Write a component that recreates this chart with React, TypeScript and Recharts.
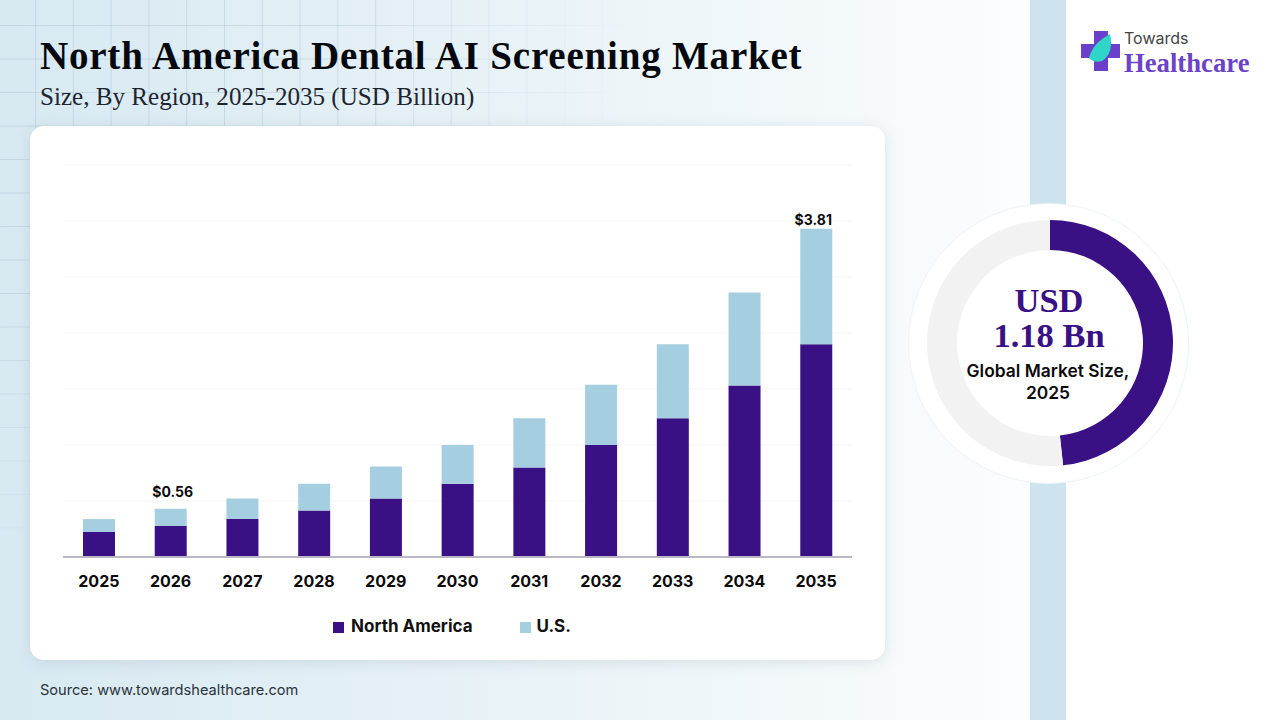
import { Bar, BarChart, CartesianGrid, Cell, Legend, LabelList, Pie, PieChart, XAxis, YAxis } from "recharts";

const years = ["2025", "2026", "2027", "2028", "2029", "2030", "2031", "2032", "2033", "2034", "2035"];
const northAmerica = [0.29, 0.36, 0.44, 0.54, 0.68, 0.85, 1.04, 1.3, 1.61, 1.99, 2.47];
const us = [0.15, 0.2, 0.24, 0.31, 0.37, 0.45, 0.57, 0.7, 0.86, 1.08, 1.34];
const totalLabels = ["", "$0.56", "", "", "", "", "", "", "", "", "$3.81"];
const yTicks = [0, 0.65, 1.3, 1.95, 2.6, 3.25, 3.9, 4.55];

const donutNames = ["North America", "Rest of World"];
const donutValues = [0.57, 0.61];

const PURPLE = "#3a1185";
const LIGHT_BLUE = "#a5cfe0";
const SANS = "Inter, 'Liberation Sans', sans-serif";
const SERIF = "'Liberation Serif', serif";

const barData = years.map((year, i) => ({
  year,
  northAmerica: northAmerica[i],
  us: us[i],
  label: totalLabels[i],
}));
const donutData = donutNames.map((name, i) => ({ name, value: donutValues[i] }));

// the two total labels don't sit at the same distance from their bars in the original
function TotalLabel({ x, y, width, value }: any) {
  if (!value) return null;
  const first = value === totalLabels[1];
  return (
    <text
      x={x + width / 2 + (first ? 2 : -3)}
      y={y - (first ? 12 : 4)}
      textAnchor="middle"
      fill="#0b0b0b"
      fontSize={14}
      fontWeight={700}
      fontFamily={SANS}
    >
      {value}
    </text>
  );
}

function Logo() {
  return (
    <div style={{ position: "absolute", left: 1080, top: 28, width: 180, height: 50 }}>
      <svg width="42" height="44" style={{ position: "absolute", left: 0, top: 0 }}>
        <path d="M14 3h14v13h12v14H28v13H14V30H1V16h13z" fill="#6a3fc9" />
        <path d="M9 30C14 14 24 10 30 6c3 12 0 22-8 27-6 2-10 0-13-3z" fill="#2fd6c8" />
      </svg>
      <div style={{ position: "absolute", left: 44, top: 1, fontFamily: SANS, fontSize: 16, lineHeight: "18px", color: "#444" }}>Towards</div>
      <div style={{ position: "absolute", left: 44, top: 21, fontFamily: SERIF, fontWeight: 700, fontSize: 26.7, lineHeight: "28px", color: "#6a43c8", whiteSpace: "nowrap" }}>Healthcare</div>
    </div>
  );
}

export default function App() {
  const gridMask = "radial-gradient(ellipse 640px 560px at 0 0, #000 55%, transparent 100%)";
  return (
    <div
      style={{
        position: "absolute",
        left: 0,
        top: 0,
        width: 1280,
        height: 720,
        overflow: "hidden",
        background: "linear-gradient(90deg, #d8e9f2 0%, #e6f1f6 35%, #f6fafc 70%, #ffffff 88%)",
      }}
    >
      {/* faint background grid */}
      <div
        style={{
          position: "absolute",
          inset: 0,
          backgroundImage:
            "linear-gradient(90deg, rgba(150,175,190,0.3) 1px, transparent 1px), linear-gradient(rgba(150,175,190,0.3) 1px, transparent 1px)",
          backgroundSize: "37.8px 33.5px",
          backgroundPosition: "35px 25px",
          WebkitMaskImage: gridMask,
          maskImage: gridMask,
        }}
      />
      <div style={{ position: "absolute", left: 1030, top: 0, width: 36, height: 720, background: "#cde3ed" }} />
      <div style={{ position: "absolute", left: 1066, top: 0, width: 214, height: 720, background: "#ffffff" }} />

      <div style={{ position: "absolute", left: 40, top: 33, fontFamily: SERIF, fontWeight: 700, fontSize: 39, letterSpacing: 0.8, color: "#05090f", whiteSpace: "nowrap" }}>
        North America Dental AI Screening Market
      </div>
      <div style={{ position: "absolute", left: 40, top: 83, fontFamily: SERIF, fontSize: 25.1, color: "#1c2530", whiteSpace: "nowrap" }}>
        Size, By Region, 2025-2035 (USD Billion)
      </div>

      <div
        style={{
          position: "absolute",
          left: 30,
          top: 126,
          width: 855,
          height: 534,
          background: "#fff",
          borderRadius: 14,
          boxShadow: "0 2px 14px rgba(120,140,155,0.22)",
        }}
      >
        <BarChart
          width={855}
          height={534}
          data={barData}
          margin={{ top: 39, right: 33, bottom: 43, left: 33 }}
          barSize={32}
        >
          <CartesianGrid vertical={false} stroke="#f4f4f4" strokeWidth={1} />
          <XAxis
            dataKey="year"
            height={40}
            interval={0}
            tickLine={false}
            axisLine={{ stroke: "#bcb7c4", strokeWidth: 2 }}
            tick={{ fill: "#0b0b0b", fontSize: 16, fontWeight: 700, fontFamily: SANS }}
            tickMargin={13}
          />
          <YAxis hide width={0} domain={[0, 4.55]} ticks={yTicks} />
          <Legend
            layout="horizontal"
            align="left"
            verticalAlign="bottom"
            iconType="square"
            iconSize={11}
            wrapperStyle={{ left: 303, bottom: 24, width: 300, fontFamily: SANS, fontWeight: 700, fontSize: 17 }}
            formatter={(value: string) => (
              <span style={{ color: "#111", marginLeft: value === "U.S." ? 2 : 3, marginRight: value === "U.S." ? 0 : 37 }}>{value}</span>
            )}
          />
          <Bar dataKey="northAmerica" name="North America" stackId="a" fill={PURPLE} isAnimationActive={false} />
          <Bar dataKey="us" name="U.S." stackId="a" fill={LIGHT_BLUE} isAnimationActive={false}>
            <LabelList dataKey="label" content={TotalLabel} />
          </Bar>
        </BarChart>
      </div>

      <div style={{ position: "absolute", left: 40, top: 681, fontFamily: SANS, fontSize: 14.6, color: "#2a333b", whiteSpace: "nowrap" }}>
        Source: www.towardshealthcare.com
      </div>

      {/* donut */}
      <div
        style={{
          position: "absolute",
          left: 908,
          top: 203,
          width: 281,
          height: 281,
          borderRadius: "50%",
          background: "#fff",
          border: "1px solid #eef3f6",
          boxSizing: "border-box",
        }}
      />
      <div style={{ position: "absolute", left: 920, top: 213 }}>
        <PieChart width={260} height={260} margin={{ top: 0, right: 0, bottom: 0, left: 0 }}>
          <Pie
            data={donutData}
            dataKey="value"
            cx={130}
            cy={130}
            innerRadius={93}
            outerRadius={123}
            startAngle={90}
            endAngle={-270}
            stroke="none"
            isAnimationActive={false}
          >
            <Cell fill={PURPLE} />
            <Cell fill="#f2f2f2" />
          </Pie>
        </PieChart>
      </div>
      <div style={{ position: "absolute", left: 949, top: 283, width: 200, textAlign: "center", fontFamily: SERIF, fontWeight: 700, fontSize: 34.5, lineHeight: "35px", color: PURPLE }}>
        <div>USD</div>
        <div>1.18 Bn</div>
      </div>
      <div style={{ position: "absolute", left: 938, top: 360, width: 220, textAlign: "center", fontFamily: SANS, fontWeight: 600, fontSize: 17.4, lineHeight: "22px", color: "#0b0b0b" }}>
        Global Market Size,
        <br />
        2025
      </div>

      <Logo />
    </div>
  );
}
